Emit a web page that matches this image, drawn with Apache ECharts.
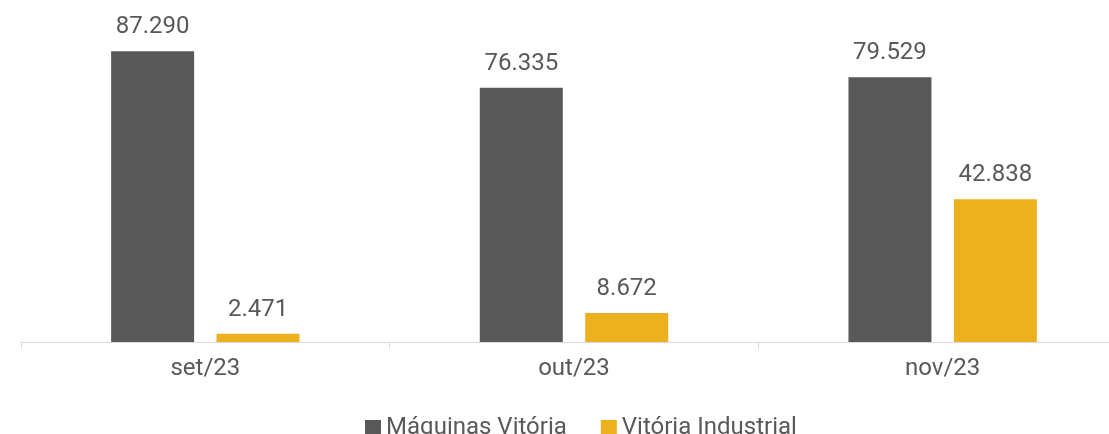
<!DOCTYPE html>
<html lang="pt">
<head>
    <meta charset="UTF-8" />
    <title>Máquinas Vitória x Vitória Industrial</title>
    <script src="https://cdn.jsdelivr.net/npm/echarts@6/dist/echarts.min.js"></script>
    <style>
        html, body { margin: 0; padding: 0; background: #fff; }
        #main { width: 1109px; height: 434px; }
    </style>
</head>
<body>
<div id="main"></div>
<script>
    // dados
    var categorias = ['set/23', 'out/23', 'nov/23'];
    var maquinasVitoria = [87290, 76335, 79529];
    var vitoriaIndustrial = [2471, 8672, 42838];

    function fmt(v) {
        // separador de milhar com ponto
        return String(v).replace(/\B(?=(\d{3})+(?!\d))/g, '.');
    }

    var chart = echarts.init(document.getElementById('main'));
    var txt = '#595959';

    var option = {
        animation: false,
        textStyle: { fontFamily: 'Roboto' },
        legend: {
            data: ['Máquinas Vitória', 'Vitória Industrial'],
            left: 360,
            top: 411,
            itemWidth: 16,
            itemHeight: 16,
            itemGap: 34,
            icon: 'rect',
            textStyle: { fontSize: 24, color: txt, fontFamily: 'Roboto' }
        },
        grid: {
            left: 21,
            width: 1106,
            top: 9,
            bottom: 92,
            containLabel: false,
            outerBoundsMode: 'none'
        },
        xAxis: {
            type: 'category',
            data: categorias,
            axisLine: { lineStyle: { color: '#d9d9d9', width: 1 } },
            axisTick: { show: true, length: 7, lineStyle: { color: '#d9d9d9' } },
            axisLabel: { fontSize: 24, color: txt, margin: 15, fontFamily: 'Roboto' }
        },
        yAxis: {
            type: 'value',
            min: 0,
            max: 100000,
            show: false,
            splitLine: { show: false }
        },
        series: [
            {
                name: 'Máquinas Vitória',
                type: 'bar',
                data: maquinasVitoria,
                barWidth: 83,
                barGap: '27%',
                itemStyle: { color: '#595959' },
                label: {
                    show: true,
                    position: 'top',
                    distance: 12,
                    fontSize: 24,
                    color: txt,
                    fontFamily: 'Roboto',
                    formatter: function (p) { return fmt(p.value); }
                }
            },
            {
                name: 'Vitória Industrial',
                type: 'bar',
                data: vitoriaIndustrial,
                barWidth: 83,
                itemStyle: { color: '#EDB120' },
                label: {
                    show: true,
                    position: 'top',
                    distance: 12,
                    fontSize: 24,
                    color: txt,
                    fontFamily: 'Roboto',
                    formatter: function (p) { return fmt(p.value); }
                }
            }
        ]
    };
    chart.setOption(option);
</script>
</body>
</html>
